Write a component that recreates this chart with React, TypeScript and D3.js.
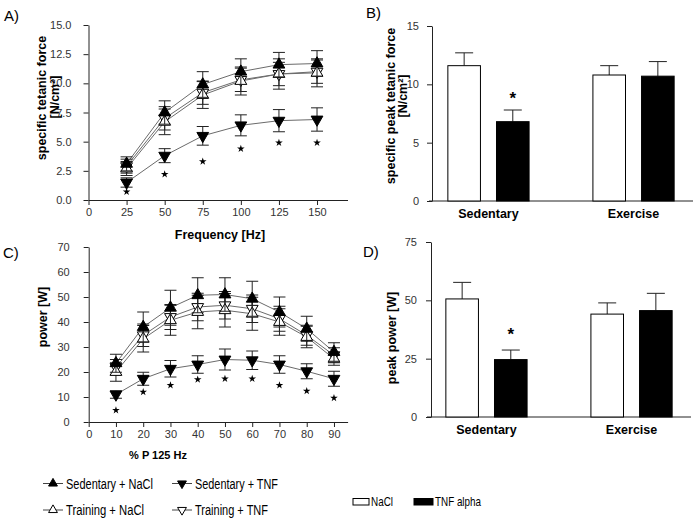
import React, { useEffect, useRef } from 'react';
import * as d3 from 'd3';

// Panel A: specific tetanic force vs stimulation frequency
const frequencies = [25, 50, 75, 100, 125, 150];
const forceSedNaCl = [3.1, 7.5, 9.9, 11.0, 11.6, 11.7];
const forceSedNaClErr = [0.6, 1.0, 1.1, 1.1, 1.05, 1.1];
const forceTrnNaCl = [2.7, 6.7, 9.0, 10.2, 10.8, 10.9];
const forceTrnNaClErr = [0.6, 1.1, 1.15, 1.2, 1.3, 1.2];
const forceTrnTNF = [2.9, 7.0, 9.2, 10.3, 10.8, 11.0];
const forceTrnTNFErr = [0.6, 1.0, 1.0, 1.0, 1.0, 1.0];
const forceSedTNF = [1.5, 3.8, 5.5, 6.4, 6.8, 6.9];
const forceSedTNFErr = [0.4, 0.6, 0.8, 0.9, 0.95, 1.0];
const forceStars = [0.7, 2.2, 3.3, 4.4, 4.9, 4.9];
const forceTicks = [0, 2.5, 5, 7.5, 10, 12.5, 15];
const freqTicks = [0, 25, 50, 75, 100, 125, 150];

// Panel C: power vs % of P at 125 Hz
const percents = [10, 20, 30, 40, 50, 60, 70, 80, 90];
const powerSedNaCl = [23.5, 38, 45.7, 50.7, 51, 49.3, 44, 37.3, 28];
const powerSedNaClErr = [3.6, 6, 7, 7, 6.7, 7, 6, 5, 3.7];
const powerTrnNaCl = [20, 33.3, 40.7, 44, 44.7, 43.3, 40, 34, 25.3];
const powerTrnNaClErr = [3.7, 5.3, 6, 6.7, 6.7, 6.6, 5.3, 4.3, 2.6];
const powerTrnTNF = [22, 34.7, 42, 46, 46.7, 45.3, 41.3, 34.7, 26.7];
const powerTrnTNFErr = [3, 4.5, 5, 5.5, 5.5, 5.5, 5, 4, 3];
const powerSedTNF = [11, 17.3, 21.3, 23, 25, 24.7, 23, 20.3, 17.3];
const powerSedTNFErr = [1.5, 2.6, 3.3, 3.5, 4.2, 3.7, 3.5, 3, 3];
const powerStars = [4.7, 12, 14.7, 17, 17.3, 17.3, 14.7, 12.4, 9.6];
const powerTicks = [0, 10, 20, 30, 40, 50, 60, 70];
const percentTicks = [0, 10, 20, 30, 40, 50, 60, 70, 80, 90];

// Panels B and D: bar charts
const groups = ['Sedentary', 'Exercise'];
const treatments = ['NaCl', 'TNF alpha'];
const peakForceNaCl = [11.6, 10.8];
const peakForceNaClErr = [1.1, 0.8];
const peakForceTNF = [6.8, 10.7];
const peakForceTNFErr = [1.0, 1.25];
const peakForceStar = [9.1, null];
const peakForceTicks = [0, 5, 10, 15];
const peakPowerNaCl = [50.6, 44.1];
const peakPowerNaClErr = [7.1, 4.8];
const peakPowerTNF = [24.6, 45.6];
const peakPowerTNFErr = [4.1, 7.4];
const peakPowerStar = [37, null];
const peakPowerTicks = [0, 25, 50, 75];

const lineLegend = ['Sedentary + NaCl', 'Sedentary + TNF', 'Training + NaCl', 'Training + TNF'];

const FONT = "'Liberation Sans', Arial, Helvetica, sans-serif";
const INK = '#222';

const styleAxis = (sel: any) => {
  sel.attr('font-family', FONT).attr('font-size', 11);
  sel.select('.domain').attr('stroke', INK);
  sel.selectAll('.tick line').attr('stroke', INK);
  sel.selectAll('.tick text').attr('fill', '#333');
};

const marker = (up: boolean, size: number) =>
  d3.symbol().type(d3.symbolTriangle).size(size)();

const drawLinePanel = (svg: any, cfg: any) => {
  const x = d3.scaleLinear().domain(cfg.xDomain).range(cfg.xRange);
  const y = d3.scaleLinear().domain(cfg.yDomain).range(cfg.yRange);
  const g = svg.append('g');

  g.append('g')
    .attr('transform', `translate(0,${cfg.yRange[0]})`)
    .call(d3.axisBottom(x).tickValues(cfg.xTicks).tickSize(5).tickSizeOuter(0).tickPadding(3))
    .call(styleAxis);

  g.append('g')
    .attr('transform', `translate(${cfg.xRange[0]},0)`)
    .call(d3.axisLeft(y).tickValues(cfg.yTicks).tickFormat(cfg.yFormat).tickSize(5).tickSizeOuter(0).tickPadding(cfg.yPad))
    .call(styleAxis);

  const line = d3.line<number>()
    .x((d, i) => x(cfg.categories[i]))
    .y(d => y(d));

  cfg.series.forEach((s: any) => {
    g.append('path')
      .datum(s.values)
      .attr('fill', 'none')
      .attr('stroke', '#6b6b6b')
      .attr('stroke-width', 1)
      .attr('d', line);
  });

  cfg.series.forEach((s: any) => {
    const eb = g.append('g').attr('stroke', INK).attr('stroke-width', 1);
    s.values.forEach((v: number, i: number) => {
      const cx = x(cfg.categories[i]);
      const lo = y(v - s.err[i]);
      const hi = y(v + s.err[i]);
      eb.append('line').attr('x1', cx).attr('x2', cx).attr('y1', lo).attr('y2', hi);
      eb.append('line').attr('x1', cx - 6).attr('x2', cx + 6).attr('y1', lo).attr('y2', lo);
      eb.append('line').attr('x1', cx - 6).attr('x2', cx + 6).attr('y1', hi).attr('y2', hi);
    });
    g.selectAll(null)
      .data(s.values)
      .enter().append('path')
      .attr('d', marker(s.up, 60))
      .attr('transform', (d: number, i: number) =>
        `translate(${x(cfg.categories[i])},${y(d)})${s.up ? '' : ' rotate(180)'}`)
      .attr('fill', s.filled ? '#000' : '#fff')
      .attr('stroke', '#000')
      .attr('stroke-width', 1);
  });

  g.selectAll(null)
    .data(cfg.stars)
    .enter().append('path')
    .attr('d', d3.symbol().type(d3.symbolStar).size(18)())
    .attr('transform', (d: number, i: number) => `translate(${x(cfg.categories[i])},${y(d)})`)
    .attr('fill', '#000');
};

const drawBarPanel = (svg: any, cfg: any) => {
  const y = d3.scaleLinear().domain(cfg.yDomain).range(cfg.yRange);
  const x = d3.scaleBand<string>().domain(groups).range(cfg.xRange).paddingInner(0.44).paddingOuter(0.13);
  const xi = d3.scaleBand<string>().domain(treatments).range([0, x.bandwidth()]).paddingInner(0.33);
  const g = svg.append('g');

  g.append('line')
    .attr('x1', cfg.xRange[0]).attr('x2', cfg.xRange[1])
    .attr('y1', cfg.yRange[0]).attr('y2', cfg.yRange[0])
    .attr('stroke', INK);

  g.append('g')
    .attr('transform', `translate(${cfg.axisX},0)`)
    .call(d3.axisLeft(y).tickValues(cfg.yTicks).tickSize(5).tickSizeOuter(0).tickPadding(cfg.yPad))
    .call(styleAxis);

  const sets = [
    { key: treatments[0], values: cfg.nacl, err: cfg.naclErr, fill: '#fff' },
    { key: treatments[1], values: cfg.tnf, err: cfg.tnfErr, fill: '#000' }
  ];

  sets.forEach(s => {
    groups.forEach((grp, i) => {
      const bx = (x(grp) as number) + (xi(s.key) as number);
      const bw = xi.bandwidth();
      const top = y(s.values[i]);
      const errTop = y(s.values[i] + s.err[i]);
      g.append('line')
        .attr('x1', bx + bw / 2).attr('x2', bx + bw / 2)
        .attr('y1', top).attr('y2', errTop)
        .attr('stroke', INK);
      g.append('line')
        .attr('x1', bx + bw / 2 - 9).attr('x2', bx + bw / 2 + 9)
        .attr('y1', errTop).attr('y2', errTop)
        .attr('stroke', INK);
      g.append('rect')
        .attr('x', bx).attr('y', top)
        .attr('width', bw).attr('height', cfg.yRange[0] - top)
        .attr('fill', s.fill)
        .attr('stroke', '#000')
        .attr('stroke-width', 1);
    });
  });

  cfg.star.forEach((v: number | null, i: number) => {
    if (v == null) return;
    const cx = (x(groups[i]) as number) + (xi(treatments[1]) as number) + xi.bandwidth() / 2;
    g.append('text')
      .attr('x', cx).attr('y', y(v) + 9)
      .attr('text-anchor', 'middle')
      .attr('font-size', 17)
      .attr('font-weight', 'bold')
      .text('*');
  });

  groups.forEach(grp => {
    g.append('text')
      .attr('x', (x(grp) as number) + x.bandwidth() / 2)
      .attr('y', cfg.labelY)
      .attr('text-anchor', 'middle')
      .attr('font-size', 12.5)
      .attr('font-weight', 'bold')
      .text(grp);
  });
};

const App = () => {
  const svgRef = useRef<SVGSVGElement>(null);

  useEffect(() => {
    const svg = d3.select(svgRef.current);
    svg.selectAll('*').remove();

    // A
    drawLinePanel(svg, {
      xDomain: [0, 170], xRange: [88.5, 347.5],
      yDomain: [0, 15], yRange: [200, 25],
      xTicks: freqTicks, yTicks: forceTicks, yFormat: d3.format('.1f'), yPad: 12,
      categories: frequencies, stars: forceStars,
      series: [
        { values: forceTrnTNF, err: forceTrnTNFErr, filled: false, up: false },
        { values: forceTrnNaCl, err: forceTrnNaClErr, filled: false, up: true },
        { values: forceSedTNF, err: forceSedTNFErr, filled: true, up: false },
        { values: forceSedNaCl, err: forceSedNaClErr, filled: true, up: true }
      ]
    });

    // C
    drawLinePanel(svg, {
      xDomain: [0, 95], xRange: [88.7, 347.6],
      yDomain: [0, 70], yRange: [422, 247],
      xTicks: percentTicks, yTicks: powerTicks, yFormat: d3.format('d'), yPad: 14,
      categories: percents, stars: powerStars,
      series: [
        { values: powerTrnTNF, err: powerTrnTNFErr, filled: false, up: false },
        { values: powerTrnNaCl, err: powerTrnNaClErr, filled: false, up: true },
        { values: powerSedTNF, err: powerSedTNFErr, filled: true, up: false },
        { values: powerSedNaCl, err: powerSedNaClErr, filled: true, up: true }
      ]
    });

    // B
    drawBarPanel(svg, {
      yDomain: [0, 15], yRange: [201, 26], axisX: 432, xRange: [429, 693],
      yTicks: peakForceTicks, yPad: 8, labelY: 218,
      nacl: peakForceNaCl, naclErr: peakForceNaClErr,
      tnf: peakForceTNF, tnfErr: peakForceTNFErr, star: peakForceStar
    });

    // D
    drawBarPanel(svg, {
      yDomain: [0, 75], yRange: [417, 242], axisX: 431, xRange: [427, 691],
      yTicks: peakPowerTicks, yPad: 9, labelY: 434,
      nacl: peakPowerNaCl, naclErr: peakPowerNaClErr,
      tnf: peakPowerTNF, tnfErr: peakPowerTNFErr, star: peakPowerStar
    });

    // panel letters
    [['A)', 4, 21], ['B)', 366, 18], ['C)', 3, 258], ['D)', 363, 257]].forEach(([t, px, py]) => {
      svg.append('text').attr('x', px).attr('y', py).attr('font-size', 15).text(t as string);
    });

    // axis titles
    const rotLabel = (t: string, bx: number, cy: number) =>
      svg.append('text')
        .attr('transform', `translate(${bx},${cy}) rotate(-90)`)
        .attr('text-anchor', 'middle')
        .attr('font-size', 12.5)
        .attr('font-weight', 'bold')
        .text(t);
    rotLabel('specific tetanic force', 46, 98);
    rotLabel('[N/cm²]', 58.5, 97);
    rotLabel('specific peak tetanic force', 395, 106);
    rotLabel('[N/cm²]', 407, 96);
    rotLabel('power [W]', 47, 317);
    rotLabel('peak power [W]', 396, 338);

    svg.append('text').attr('x', 220).attr('y', 239).attr('text-anchor', 'middle')
      .attr('font-size', 12.5).attr('font-weight', 'bold').text('Frequency [Hz]');
    svg.append('text').attr('x', 158).attr('y', 459).attr('text-anchor', 'middle')
      .attr('font-size', 11).attr('font-weight', 'bold').text('% P 125 Hz');

    // line legend
    const legendPos = [
      { x: 43, y: 483.5, w: 87, up: true, filled: true },
      { x: 172, y: 483.5, w: 83, up: false, filled: true },
      { x: 43, y: 510, w: 78, up: true, filled: false },
      { x: 172, y: 510, w: 73, up: false, filled: false }
    ];
    lineLegend.forEach((label, i) => {
      const p = legendPos[i];
      svg.append('line').attr('x1', p.x).attr('x2', p.x + 20).attr('y1', p.y).attr('y2', p.y)
        .attr('stroke', '#444');
      svg.append('path')
        .attr('d', marker(p.up, 34))
        .attr('transform', `translate(${p.x + 10},${p.y})${p.up ? '' : ' rotate(180)'}`)
        .attr('fill', p.filled ? '#000' : '#fff')
        .attr('stroke', '#000');
      svg.append('text')
        .attr('x', p.x + 23).attr('y', p.y + 5)
        .attr('font-size', 14)
        .attr('textLength', p.w)
        .attr('lengthAdjust', 'spacingAndGlyphs')
        .text(label);
    });

    // bar legend
    const barLegend = [
      { x: 353, w: 16, tw: 22, fill: '#fff' },
      { x: 414, w: 19, tw: 46, fill: '#000' }
    ];
    treatments.forEach((t, i) => {
      const p = barLegend[i];
      svg.append('rect').attr('x', p.x).attr('y', 498.5).attr('width', p.w).attr('height', 6.5)
        .attr('fill', p.fill).attr('stroke', '#000');
      svg.append('text')
        .attr('x', p.x + p.w + 2).attr('y', 506)
        .attr('font-size', 13)
        .attr('textLength', p.tw)
        .attr('lengthAdjust', 'spacingAndGlyphs')
        .text(t);
    });
  }, []);

  return (
    <svg
      ref={svgRef}
      width={697}
      height={521}
      fontFamily={FONT}
      style={{ position: 'absolute', left: 0, top: 0, background: '#fff' }}
    />
  );
};

export default App;
